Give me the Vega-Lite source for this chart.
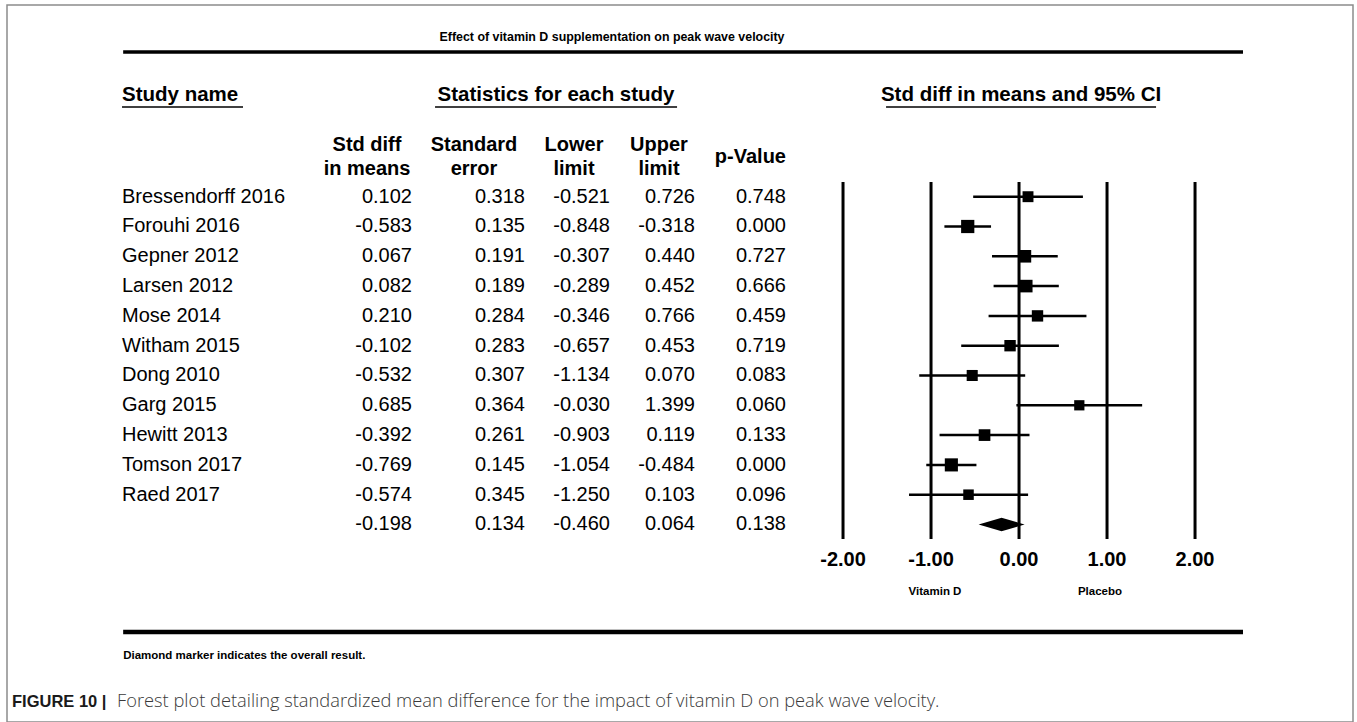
{
  "$schema": "https://vega.github.io/schema/vega-lite/v6.json",
  "width": 1357,
  "height": 722,
  "autosize": {"type": "fit", "contains": "padding"},
  "padding": {"left": 7, "top": 5, "right": 4, "bottom": 0},
  "background": "white",
  "config": {
    "view": {"stroke": "#8c8c8c", "strokeWidth": 1.5},
    "font": "Liberation Sans",
    "locale": {"number": {"decimal": ".", "thousands": ",", "grouping": [3], "currency": ["$", ""], "minus": "-"}}
  },
  "datasets": {
    "rows": [
      {"study": "Bressendorff 2016", "kind": "study", "smd": 0.102, "se": 0.318, "lower": -0.521, "upper": 0.726, "p": 0.748},
      {"study": "Forouhi 2016", "kind": "study", "smd": -0.583, "se": 0.135, "lower": -0.848, "upper": -0.318, "p": 0.000},
      {"study": "Gepner 2012", "kind": "study", "smd": 0.067, "se": 0.191, "lower": -0.307, "upper": 0.440, "p": 0.727},
      {"study": "Larsen 2012", "kind": "study", "smd": 0.082, "se": 0.189, "lower": -0.289, "upper": 0.452, "p": 0.666},
      {"study": "Mose 2014", "kind": "study", "smd": 0.210, "se": 0.284, "lower": -0.346, "upper": 0.766, "p": 0.459},
      {"study": "Witham 2015", "kind": "study", "smd": -0.102, "se": 0.283, "lower": -0.657, "upper": 0.453, "p": 0.719},
      {"study": "Dong 2010", "kind": "study", "smd": -0.532, "se": 0.307, "lower": -1.134, "upper": 0.070, "p": 0.083},
      {"study": "Garg 2015", "kind": "study", "smd": 0.685, "se": 0.364, "lower": -0.030, "upper": 1.399, "p": 0.060},
      {"study": "Hewitt 2013", "kind": "study", "smd": -0.392, "se": 0.261, "lower": -0.903, "upper": 0.119, "p": 0.133},
      {"study": "Tomson 2017", "kind": "study", "smd": -0.769, "se": 0.145, "lower": -1.054, "upper": -0.484, "p": 0.000},
      {"study": "Raed 2017", "kind": "study", "smd": -0.574, "se": 0.345, "lower": -1.250, "upper": 0.103, "p": 0.096},
      {"study": "", "kind": "overall", "smd": -0.198, "se": 0.134, "lower": -0.460, "upper": 0.064, "p": 0.138}
    ],
    "ticks": [{"t": -2}, {"t": -1}, {"t": 0}, {"t": 1}, {"t": 2}],
    "one": [{}]
  },
  "data": {"name": "rows"},
  "transform": [{"window": [{"op": "row_number", "as": "idx"}]}],
  "layer": [
    {
      "layer": [
        {
          "mark": {"type": "text", "align": "left", "baseline": "middle", "fontSize": 20},
          "encoding": {
            "x": {"datum": 0, "type": "quantitative", "scale": {"type": "linear", "domain": [0, 1, 2, 3, 4, 5], "range": [115, 405, 518, 603, 688, 779], "nice": false, "zero": false}, "axis": null},
            "y": {"field": "idx", "type": "quantitative", "scale": {"domain": [-5.433, 18.628], "reverse": true, "nice": false, "zero": false}, "axis": null},
            "text": {"field": "study"}
          }
        },
        {
          "mark": {"type": "text", "align": "right", "baseline": "middle", "fontSize": 20},
          "encoding": {
            "x": {"datum": 1, "type": "quantitative"},
            "y": {"field": "idx", "type": "quantitative"},
            "text": {"field": "smd", "format": ".3f"}
          }
        },
        {
          "mark": {"type": "text", "align": "right", "baseline": "middle", "fontSize": 20},
          "encoding": {
            "x": {"datum": 2, "type": "quantitative"},
            "y": {"field": "idx", "type": "quantitative"},
            "text": {"field": "se", "format": ".3f"}
          }
        },
        {
          "mark": {"type": "text", "align": "right", "baseline": "middle", "fontSize": 20},
          "encoding": {
            "x": {"datum": 3, "type": "quantitative"},
            "y": {"field": "idx", "type": "quantitative"},
            "text": {"field": "lower", "format": ".3f"}
          }
        },
        {
          "mark": {"type": "text", "align": "right", "baseline": "middle", "fontSize": 20},
          "encoding": {
            "x": {"datum": 4, "type": "quantitative"},
            "y": {"field": "idx", "type": "quantitative"},
            "text": {"field": "upper", "format": ".3f"}
          }
        },
        {
          "mark": {"type": "text", "align": "right", "baseline": "middle", "fontSize": 20},
          "encoding": {
            "x": {"datum": 5, "type": "quantitative"},
            "y": {"field": "idx", "type": "quantitative"},
            "text": {"field": "p", "format": ".3f"}
          }
        },
        {
          "data": {"name": "one"},
          "mark": {"type": "text", "align": "center", "baseline": "middle", "fontSize": 20, "fontWeight": "bold", "lineHeight": 24, "dx": -45},
          "encoding": {
            "x": {"datum": 1, "type": "quantitative"},
            "y": {"datum": -0.735, "type": "quantitative"},
            "text": {"value": ["Std diff", "in means"]}
          }
        },
        {
          "data": {"name": "one"},
          "mark": {"type": "text", "align": "center", "baseline": "middle", "fontSize": 20, "fontWeight": "bold", "lineHeight": 24, "dx": -51},
          "encoding": {
            "x": {"datum": 2, "type": "quantitative"},
            "y": {"datum": -0.735, "type": "quantitative"},
            "text": {"value": ["Standard", "error"]}
          }
        },
        {
          "data": {"name": "one"},
          "mark": {"type": "text", "align": "center", "baseline": "middle", "fontSize": 20, "fontWeight": "bold", "lineHeight": 24, "dx": -36},
          "encoding": {
            "x": {"datum": 3, "type": "quantitative"},
            "y": {"datum": -0.735, "type": "quantitative"},
            "text": {"value": ["Lower", "limit"]}
          }
        },
        {
          "data": {"name": "one"},
          "mark": {"type": "text", "align": "center", "baseline": "middle", "fontSize": 20, "fontWeight": "bold", "lineHeight": 24, "dx": -36},
          "encoding": {
            "x": {"datum": 4, "type": "quantitative"},
            "y": {"datum": -0.735, "type": "quantitative"},
            "text": {"value": ["Upper", "limit"]}
          }
        },
        {
          "data": {"name": "one"},
          "mark": {"type": "text", "align": "right", "baseline": "middle", "fontSize": 20, "fontWeight": "bold"},
          "encoding": {
            "x": {"datum": 5, "type": "quantitative"},
            "y": {"datum": -0.332, "type": "quantitative"},
            "text": {"value": "p-Value"}
          }
        }
      ]
    },
    {
      "layer": [
        {
          "data": {"name": "ticks"},
          "mark": {"type": "rule", "color": "black", "strokeWidth": 3},
          "encoding": {
            "x": {"field": "t", "type": "quantitative", "scale": {"domain": [-11.5, 3.795], "nice": false, "zero": false}, "axis": null},
            "y": {"datum": 0.507, "type": "quantitative"},
            "y2": {"datum": 12.483}
          }
        },
        {
          "data": {"name": "ticks"},
          "mark": {"type": "text", "align": "center", "baseline": "middle", "fontSize": 20, "fontWeight": "bold"},
          "encoding": {
            "x": {"field": "t", "type": "quantitative"},
            "y": {"datum": 13.191, "type": "quantitative"},
            "text": {"field": "t", "type": "quantitative", "format": ".2f"}
          }
        },
        {
          "transform": [{"filter": "datum.kind === 'study'"}],
          "mark": {"type": "rule", "color": "black", "strokeWidth": 2.5},
          "encoding": {
            "x": {"field": "lower", "type": "quantitative"},
            "x2": {"field": "upper"},
            "y": {"field": "idx", "type": "quantitative"}
          }
        },
        {
          "transform": [{"filter": "datum.kind === 'study'"}],
          "mark": {"type": "point", "shape": "square", "filled": true, "color": "black", "opacity": 1},
          "encoding": {
            "x": {"field": "smd", "type": "quantitative"},
            "y": {"field": "idx", "type": "quantitative"},
            "size": {"field": "se", "type": "quantitative", "scale": {"domain": [0.135, 0.364], "range": [175, 105], "zero": false, "nice": false}, "legend": null}
          }
        },
        {
          "transform": [{"filter": "datum.kind === 'overall'"}],
          "mark": {"type": "point", "shape": "M-1,0L0,-0.29L1,0L0,0.29Z", "filled": true, "color": "black", "opacity": 1, "size": 2116},
          "encoding": {
            "x": {"field": "smd", "type": "quantitative"},
            "y": {"field": "idx", "type": "quantitative"}
          }
        },
        {
          "data": {"name": "one"},
          "mark": {"type": "text", "align": "center", "baseline": "middle", "fontSize": 12.4, "fontWeight": "bold"},
          "encoding": {
            "x": {"datum": -4.625, "type": "quantitative"},
            "y": {"datum": -4.359, "type": "quantitative"},
            "text": {"value": "Effect of vitamin D supplementation on peak wave velocity"}
          }
        },
        {
          "data": {"name": "one"},
          "mark": {"type": "rule", "color": "black", "strokeWidth": 3.5},
          "encoding": {
            "x": {"datum": -10.18, "type": "quantitative"},
            "x2": {"datum": 2.545},
            "y": {"datum": -3.856, "type": "quantitative"}
          }
        },
        {
          "data": {"name": "one"},
          "mark": {"type": "rule", "color": "black", "strokeWidth": 4.5},
          "encoding": {
            "x": {"datum": -10.18, "type": "quantitative"},
            "x2": {"datum": 2.545},
            "y": {"datum": 15.607, "type": "quantitative"}
          }
        },
        {
          "data": {"name": "one"},
          "mark": {"type": "text", "align": "left", "baseline": "middle", "fontSize": 20.5, "fontWeight": "bold"},
          "encoding": {
            "x": {"datum": -10.193, "type": "quantitative"},
            "y": {"datum": -2.413, "type": "quantitative"},
            "text": {"value": "Study name"}
          }
        },
        {
          "data": {"name": "one"},
          "mark": {"type": "text", "align": "center", "baseline": "middle", "fontSize": 20.5, "fontWeight": "bold"},
          "encoding": {
            "x": {"datum": -5.261, "type": "quantitative"},
            "y": {"datum": -2.413, "type": "quantitative"},
            "text": {"value": "Statistics for each study"}
          }
        },
        {
          "data": {"name": "one"},
          "mark": {"type": "text", "align": "center", "baseline": "middle", "fontSize": 20.5, "fontWeight": "bold"},
          "encoding": {
            "x": {"datum": 0.023, "type": "quantitative"},
            "y": {"datum": -2.413, "type": "quantitative"},
            "text": {"value": "Std diff in means and 95% CI"}
          }
        },
        {
          "data": {"name": "one"},
          "mark": {"type": "rule", "color": "black", "strokeWidth": 1.5},
          "encoding": {
            "x": {"datum": -10.193, "type": "quantitative"},
            "x2": {"datum": -8.818},
            "y": {"datum": -2.01, "type": "quantitative"}
          }
        },
        {
          "data": {"name": "one"},
          "mark": {"type": "rule", "color": "black", "strokeWidth": 1.5},
          "encoding": {
            "x": {"datum": -6.636, "type": "quantitative"},
            "x2": {"datum": -3.886},
            "y": {"datum": -2.01, "type": "quantitative"}
          }
        },
        {
          "data": {"name": "one"},
          "mark": {"type": "rule", "color": "black", "strokeWidth": 1.5},
          "encoding": {
            "x": {"datum": -1.511, "type": "quantitative"},
            "x2": {"datum": 1.557},
            "y": {"datum": -2.01, "type": "quantitative"}
          }
        },
        {
          "data": {"name": "one"},
          "mark": {"type": "text", "align": "center", "baseline": "middle", "fontSize": 11.5, "fontWeight": "bold"},
          "encoding": {
            "x": {"datum": -0.955, "type": "quantitative"},
            "y": {"datum": 14.265, "type": "quantitative"},
            "text": {"value": "Vitamin D"}
          }
        },
        {
          "data": {"name": "one"},
          "mark": {"type": "text", "align": "center", "baseline": "middle", "fontSize": 11.5, "fontWeight": "bold"},
          "encoding": {
            "x": {"datum": 0.92, "type": "quantitative"},
            "y": {"datum": 14.265, "type": "quantitative"},
            "text": {"value": "Placebo"}
          }
        },
        {
          "data": {"name": "one"},
          "mark": {"type": "text", "align": "left", "baseline": "middle", "fontSize": 11.5, "fontWeight": "bold"},
          "encoding": {
            "x": {"datum": -10.18, "type": "quantitative"},
            "y": {"datum": 16.413, "type": "quantitative"},
            "text": {"value": "Diamond marker indicates the overall result."}
          }
        },
        {
          "data": {"name": "one"},
          "mark": {"type": "text", "align": "left", "baseline": "middle", "fontSize": 16.5, "fontWeight": "bold", "color": "#1a1a1a"},
          "encoding": {
            "x": {"datum": -11.443, "type": "quantitative"},
            "y": {"datum": 17.957, "type": "quantitative"},
            "text": {"value": "FIGURE 10 |"}
          }
        },
        {
          "data": {"name": "one"},
          "mark": {"type": "text", "align": "left", "baseline": "middle", "fontSize": 18.3, "fontWeight": 300, "font": "Open Sans", "color": "#3a3a3a"},
          "encoding": {
            "x": {"datum": -10.25, "type": "quantitative"},
            "y": {"datum": 17.957, "type": "quantitative"},
            "text": {"value": "Forest plot detailing standardized mean difference for the impact of vitamin D on peak wave velocity."}
          }
        }
      ]
    }
  ],
  "resolve": {"scale": {"x": "independent"}}
}
